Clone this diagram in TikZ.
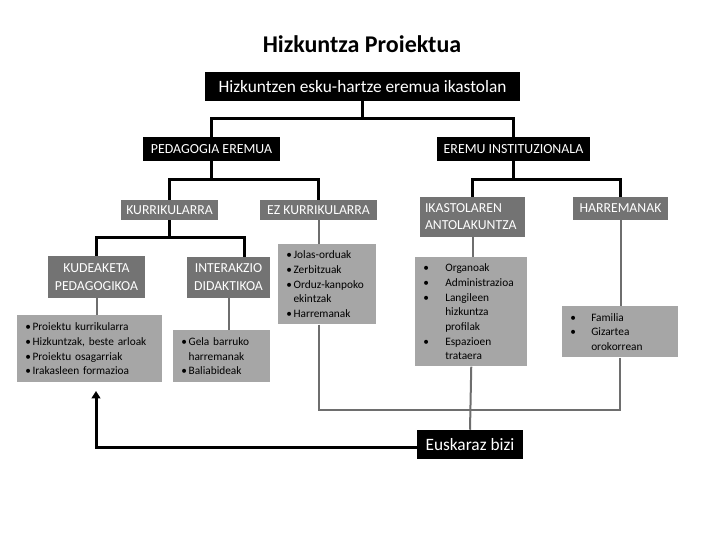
\documentclass[tikz,border=0pt]{standalone}
\usepackage{fontspec}
\setmainfont{Carlito}
\usepackage{tikz}
\usetikzlibrary{arrows.meta,positioning,calc}

\definecolor{dkgray}{HTML}{737373}
\definecolor{ltgray}{HTML}{A6A6A6}
\definecolor{lngray}{HTML}{6E6E6E}

\newcommand\bitem[2][5.5pt]{\makebox[#1][l]{\textbullet}#2}
\newcommand\bcont[2][5.5pt]{\hspace*{#1}#2}

\begin{document}
\begin{tikzpicture}[
  x=0.75pt,y=-0.75pt,
  hd/.style={fill=black,text=white,inner sep=2pt,align=center},
  dk/.style={fill=dkgray,text=white,inner sep=2pt,align=center,font=\fontsize{10.3}{13.5}\selectfont},
  lt/.style={fill=ltgray,anchor=north west,align=left,inner xsep=6pt,inner ysep=2pt,font=\fontsize{8.5}{11}\selectfont},
  bl/.style={line width=2.25pt},
  gl/.style={draw=lngray,line width=1.5pt},
  ar/.style={bl,-{Triangle[length=5.5pt,width=6.5pt]}}
]
\useasboundingbox (0,0) rectangle (725,544);

\node[font=\fontsize{18}{20}\selectfont\bfseries] (title) at (362,44) {Hizkuntza Proiektua};
\node[hd,minimum width=236.25pt,minimum height=21.75pt,font=\fontsize{13}{15}\selectfont] (top) at (362.5,86.5) {Hizkuntzen esku-hartze eremua ikastolan};

% eremuak
\node[hd,minimum width=102.75pt,minimum height=18pt,font=\fontsize{10.4}{12}\selectfont] (ped) at (211.5,149) {PEDAGOGIA EREMUA};
\node[hd,minimum width=114.75pt,minimum height=18pt,font=\fontsize{10.4}{12}\selectfont] (inst) at (513.5,149) {EREMU INSTITUZIONALA};

% azpi-eremuak
\node[dk,minimum width=72.75pt,minimum height=15pt] (kur) at (169.5,210) {KURRIKULARRA};
\node[dk,minimum width=87.75pt,minimum height=15pt] (ezk) at (318.5,210) {EZ KURRIKULARRA};
\node[dk,align=left,text width=71.25pt,inner xsep=3.75pt,minimum height=30pt,font=\fontsize{10.3}{12.75}\selectfont] (ika) at (472.5,217) {IKASTOLAREN\\ANTOLAKUNTZA};
\node[dk,minimum width=71.25pt,minimum height=17.25pt] (har) at (620.5,208.5) {HARREMANAK};
\node[dk,minimum width=72.75pt,minimum height=31.5pt] (kud) at (96.5,277) {KUDEAKETA\\PEDAGOGIKOA};
\node[dk,minimum width=62.25pt,minimum height=30.75pt] (int) at (228.5,277.5) {INTERAKZIO\\DIDAKTIKOA};

% zerrendak
\node[lt,text width=96.75pt,minimum height=50.25pt] (kudl) at (17,315) {\bitem{Proiektu kurrikularra}\\\bitem{Hizkuntzak, beste arloak}\\\bitem{Proiektu osagarriak}\\\bitem{Irakasleen formazioa}};
\node[lt,text width=60.75pt,minimum height=39pt] (intl) at (173,330) {\bitem{Gela barruko}\\\bcont{harremanak}\\\bitem{Baliabideak}};
\node[lt,text width=61.5pt,minimum height=60pt] (ezkl) at (278,244) {\bitem{Jolas-orduak}\\\bitem{Zerbitzuak}\\\bitem{Orduz-kanpoko}\\\bcont{ekintzak}\\\bitem{Harremanak}};
\node[lt,text width=72pt,minimum height=81.75pt] (ikal) at (415,257) {\bitem[16.5pt]{Organoak}\\\bitem[16.5pt]{Administrazioa}\\\bitem[16.5pt]{Langileen}\\\bcont[16.5pt]{hizkuntza}\\\bcont[16.5pt]{profilak}\\\bitem[16.5pt]{Espazioen}\\\bcont[16.5pt]{trataera}};
\node[lt,text width=75pt,minimum height=38.25pt] (harl) at (562,306) {\bitem[15.75pt]{Familia}\\\bitem[15.75pt]{Gizartea}\\\bcont[15.75pt]{orokorrean}};

\node[hd,minimum width=79.5pt,minimum height=21.75pt,font=\fontsize{13}{15}\selectfont] (eus) at (470,444.5) {Euskaraz bizi};

% loturak
\coordinate (j1) at (362.5,118);
\coordinate (j2) at (211.5,179);
\coordinate (j3) at (513.5,179);
\coordinate (j4) at (169.5,237);
\coordinate (j4r) at (244,257);
\coordinate (j5) at (471,410);
\coordinate (tip) at (96,391);

\draw[bl] (top.south) -- (j1);
\draw[bl] (ped.north) |- (j1) -| (inst.north);
\draw[bl] (ped.south) -- (j2);
\draw[bl] (kur.north) |- (j2) -| (ezk.north);
\draw[bl] (inst.south) -- (j3);
\draw[bl] (ika.north) |- (j3) -| (har.north);
\draw[bl] (kur.south) -- (j4);
\draw[bl] (kud.north) |- (j4) -| (j4r);

\draw[gl] (kud.south) -- (kud.south |- kudl.north);
\draw[gl] (int.south) -- (int.south |- intl.north);
\draw[gl] (ezk.south) -- (ezk.south |- ezkl.north);
\draw[gl] (ika.south) -- (ika.south |- ikal.north);
\draw[gl] (har.south) -- (har.south |- harl.north);
\draw[gl] (ezkl.south -| ezk) |- (j5) -| (harl.south);
\draw[gl] (ikal.south) -- (eus.north);

\draw[ar] ([yshift=-1.9pt]eus.west) -| (tip);
\end{tikzpicture}
\end{document}
